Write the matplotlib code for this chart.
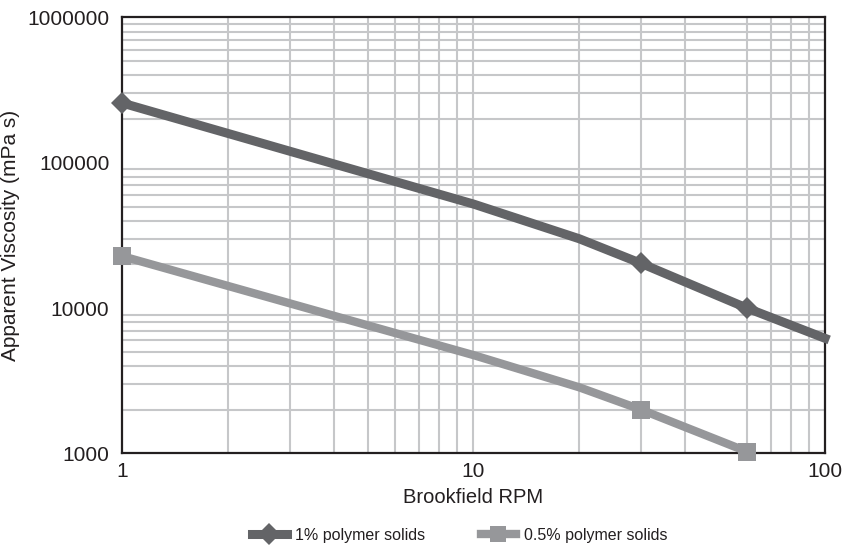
import matplotlib
matplotlib.use("Agg")
import matplotlib.pyplot as plt

plt.rcParams['font.family'] = ['Liberation Sans', 'DejaVu Sans']
TXT = '#231f20'
plt.rcParams['text.color'] = TXT
plt.rcParams['axes.labelcolor'] = TXT
plt.rcParams['xtick.color'] = TXT
plt.rcParams['ytick.color'] = TXT

# Data
rpm_1pct = [1, 10, 20, 30, 60, 100]
visc_1pct = [258000, 52000, 30000, 20300, 10000, 6200]
marker_idx_1pct = [0, 3, 4]

rpm_05pct = [1, 10, 20, 30, 60]
visc_05pct = [22800, 4750, 2850, 2000, 1030]
marker_idx_05pct = [0, 3, 4]

series_labels = ['1% polymer solids', '0.5% polymer solids']
x_ticks = [1, 10, 100]
x_tick_labels = ['1', '10', '100']
y_ticks = [1000, 10000, 100000, 1000000]
y_tick_labels = ['1000', '10000', '100000', '1000000']

# grid positions as drawn in the reference
x_grid = [2, 3, 4, 5, 6, 7, 8, 9, 10, 20, 30, 40, 60, 70, 80, 90]
y_grid = [2e3, 3e3, 4e3, 5e3, 6e3, 7e3, 8e3, 9e3,
          2e4, 3e4, 4e4, 5e4, 6e4, 7e4, 8e4, 9e4,
          2e5, 3e5, 4e5, 5e5, 6e5, 7e5, 8e5, 9e5]

DARK = '#636467'
LIGHT = '#96979a'
GRID = '#c6c7c9'

fig = plt.figure(figsize=(8.43, 5.45), dpi=100)
ax = fig.add_axes([0.1447, 0.168, 0.8339, 0.800])
ax.set_xscale('log')
ax.set_yscale('log')
ax.set_xlim(1, 100)
ax.set_ylim(1000, 1000000)

for gx in x_grid:
    ax.axvline(gx, color=GRID, lw=1.5, zorder=0)
for gy in y_grid:
    ax.axhline(gy, color=GRID, lw=1.5, zorder=0)

ax.plot(rpm_1pct, visc_1pct, color=DARK, lw=6.5, marker='D', ms=11.5,
        markevery=marker_idx_1pct, mec=DARK, mew=0, clip_on=False, zorder=4,
        label=series_labels[0], solid_joinstyle='round')
ax.plot(rpm_05pct, visc_05pct, color=LIGHT, lw=6, marker='s', ms=12.5,
        markevery=marker_idx_05pct, mec=LIGHT, mew=0, clip_on=False, zorder=4,
        label=series_labels[1], solid_joinstyle='round')

ax.set_xticks(x_ticks)
ax.set_xticklabels(x_tick_labels)
ax.set_yticks(y_ticks)
ax.set_yticklabels(y_tick_labels)
ax.minorticks_off()
ax.tick_params(axis='both', which='both', length=0, labelsize=15)
ax.tick_params(axis='x', pad=6)
ax.tick_params(axis='y', pad=9)

for sp in ax.spines.values():
    sp.set_color(TXT)
    sp.set_linewidth(1.6)
    sp.set_zorder(3)

ax.set_xlabel('Brookfield RPM', fontsize=14.5, labelpad=5)
ax.set_ylabel('Apparent Viscosity (mPa s)', fontsize=15)
ax.yaxis.set_label_coords(-0.145, 0.5)

handles, labels = ax.get_legend_handles_labels()
leg = fig.legend(handles, labels, loc='lower center', ncol=2,
                 bbox_to_anchor=(0.545, -0.022), frameon=False,
                 fontsize=11.5, handlelength=2.2, columnspacing=3.5,
                 handletextpad=0.5, markerscale=0.95)

fig.savefig('out.png', dpi=100)
